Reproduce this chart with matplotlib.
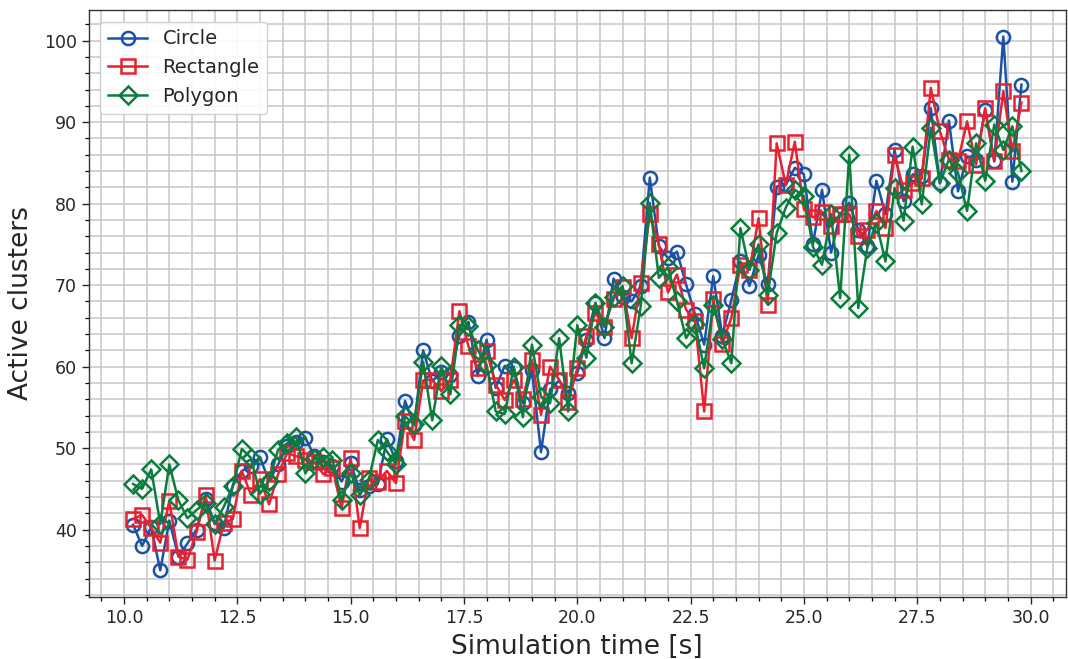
import numpy as np
import matplotlib
matplotlib.use("Agg")
import matplotlib.pyplot as plt
from matplotlib.ticker import MultipleLocator

# Sampling instants of the simulation (every 0.2 s)
time_s = np.round(np.arange(10.2, 29.81, 0.2), 1)

circle = [
    40.6, 38.0, 40.3, 35.0, 41.1, 36.7, 38.3, 40.0, 43.8, 40.8,
    40.2, 45.4, 47.2, 47.8, 48.9, 45.9, 48.0, 50.3, 50.8, 51.3,
    49.0, 48.3, 47.8, 45.9, 48.2, 44.8, 45.3, 45.6, 51.1, 48.4,
    55.8, 52.8, 62.0, 58.2, 59.3, 59.0, 63.8, 65.5, 58.9, 63.3,
    57.4, 60.1, 59.8, 55.5, 59.6, 49.5, 57.2, 58.3, 56.8, 59.2,
    63.3, 67.8, 63.5, 70.8, 68.6, 68.0, 69.9, 83.2, 74.8, 73.3,
    74.1, 70.1, 66.4, 62.7, 71.1, 63.8, 68.2, 72.9, 69.9, 73.7,
    70.1, 82.1, 82.3, 84.4, 83.6, 75.0, 81.7, 74.0, 78.7, 80.1,
    76.8, 74.8, 82.8, 78.7, 86.6, 80.3, 83.6, 83.4, 91.7, 82.5,
    90.2, 81.5, 85.8, 85.4, 91.5, 85.2, 100.5, 82.7, 94.6,
]

rectangle = [
    41.3, 41.8, 40.2, 38.4, 43.5, 36.7, 36.3, 39.7, 44.2, 36.2,
    40.8, 41.3, 47.2, 44.3, 46.2, 43.1, 46.8, 49.4, 49.0, 48.6,
    48.3, 46.8, 47.6, 42.6, 48.8, 40.2, 46.3, 45.9, 47.2, 45.7,
    53.3, 51.0, 58.3, 58.4, 57.0, 58.4, 66.8, 62.5, 59.8, 61.9,
    57.8, 55.9, 58.4, 56.0, 60.8, 54.1, 60.0, 58.4, 55.7, 59.8,
    63.7, 66.6, 64.9, 68.3, 69.8, 63.5, 70.3, 78.7, 75.0, 69.1,
    71.3, 67.0, 65.6, 54.5, 68.3, 62.8, 66.0, 72.5, 71.9, 78.2,
    67.6, 87.4, 82.3, 87.6, 79.3, 78.3, 79.0, 77.2, 78.7, 78.7,
    76.0, 76.8, 79.1, 77.0, 86.0, 81.7, 82.5, 83.1, 94.2, 88.9,
    85.4, 85.2, 90.1, 84.8, 91.7, 85.2, 93.8, 86.4, 92.4,
]

polygon = [
    45.6, 45.0, 47.4, 40.7, 48.0, 43.6, 41.4, 42.4, 43.3, 40.7,
    42.8, 45.3, 49.9, 48.8, 44.4, 46.0, 49.8, 50.6, 51.4, 46.9,
    48.7, 48.9, 48.6, 43.6, 47.0, 44.2, 46.1, 51.0, 49.6, 48.0,
    53.9, 52.9, 60.6, 53.4, 60.1, 56.6, 65.1, 65.0, 62.1, 60.2,
    54.5, 54.2, 60.0, 53.8, 62.7, 56.3, 55.5, 63.5, 54.5, 65.1,
    61.1, 67.8, 64.9, 68.6, 69.9, 60.4, 67.4, 80.1, 70.9, 72.2,
    68.0, 63.5, 65.2, 59.8, 67.6, 63.4, 60.4, 77.0, 71.9, 75.0,
    68.8, 76.4, 79.5, 81.7, 80.9, 74.7, 72.5, 78.7, 68.4, 86.0,
    67.2, 74.6, 77.6, 72.9, 81.9, 77.9, 87.0, 79.9, 89.3, 82.5,
    85.4, 83.8, 79.1, 87.4, 82.8, 89.7, 86.6, 89.5, 84.0,
]

series_names = ["Circle", "Rectangle", "Polygon"]
series_colors = ["#1a52a6", "#e8202f", "#0b7d3c"]
series_markers = ["o", "s", "D"]

plt.rcParams["font.family"] = ["DejaVu Sans"]

fig = plt.figure(figsize=(10.68, 6.59), dpi=100)
ax = fig.add_axes([0.083, 0.094, 0.915, 0.891])

for values, name, color, marker in zip(
    [circle, rectangle, polygon], series_names, series_colors, series_markers
):
    ax.plot(
        time_s, values,
        color=color, lw=1.8, marker=marker,
        markersize=9.5 if marker != "D" else 9,
        markerfacecolor="none", markeredgewidth=1.8,
        label=name,
    )

ax.xaxis.set_major_locator(MultipleLocator(2.5))
ax.xaxis.set_minor_locator(MultipleLocator(0.5))
ax.yaxis.set_major_locator(MultipleLocator(10))
ax.yaxis.set_minor_locator(MultipleLocator(2))

ax.grid(True, which="both", color="#c6c6c6", lw=1.1)
ax.set_axisbelow(True)

ax.tick_params(axis="both", which="major", direction="out", length=5,
               width=1.0, labelsize=12.5, colors="#262626",
               top=False, right=False)
ax.tick_params(axis="both", which="minor", direction="out", length=3,
               width=0.9, top=False, right=False)

for side in ["left", "bottom", "top", "right"]:
    ax.spines[side].set_color("#333333")
    ax.spines[side].set_linewidth(1.0)

ax.set_xlabel("Simulation time [s]", fontsize=19, color="#262626", labelpad=5)
ax.set_ylabel("Active clusters", fontsize=19, color="#262626", labelpad=7)

leg = ax.legend(loc="upper left", fontsize=14, frameon=True,
                fancybox=True, framealpha=0.9, edgecolor="#cccccc",
                handlelength=2.0, borderaxespad=0.6)
for text in leg.get_texts():
    text.set_color("#262626")

fig.savefig("out.png", dpi=100)
